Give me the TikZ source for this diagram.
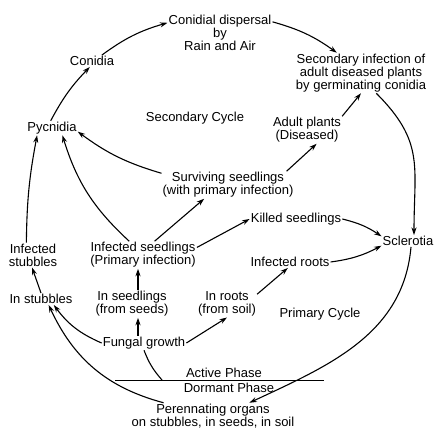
\documentclass[tikz,border=0pt]{standalone}
\usepackage{fontspec}
\setmainfont{Liberation Sans}
\usepackage{tikz}
\usetikzlibrary{arrows.meta}
\usetikzlibrary{calc}

\begin{document}
\begin{tikzpicture}[x=1pt, y=1pt,
	lbl/.style={align=center, inner sep=1pt, font=\fontsize{13}{13}\selectfont},
	arr/.style={line width=1.1pt, -{Stealth[length=7.5pt, width=5pt]}}]
	\useasboundingbox (0, 0) rectangle (434, -428);

	\node[lbl] (disp) at (220, -33) {Conidial dispersal\\by\\Rain and Air};
	\node[lbl] (con) at (92, -61) {Conidia};
	\node[lbl] (pyc) at (52, -128) {Pycnidia};
	\node[lbl] (seccyc) at (195, -118) {Secondary Cycle};
	\node[lbl] (sec) at (361, -73) {Secondary infection of\\adult diseased plants\\by germinating conidia};
	\node[lbl] (adult) at (307, -130) {Adult plants\\(Diseased)};
	\node[lbl] (surv) at (228, -185) {Surviving seedlings\\(with primary infection)};
	\node[lbl] (kill) at (296, -219) {Killed seedlings};
	\node[lbl] (scl) at (408, -241) {Sclerotia};
	\node[lbl] (iroot) at (290, -262) {Infected roots};
	\node[lbl] (iseed) at (143, -255) {Infected seedlings\\(Primary infection)};
	\node[lbl] (istub) at (33, -255) {Infected\\stubbles};
	\node[lbl] (stub) at (41, -299) {In stubbles};
	\node[lbl] (iseedin) at (132, -304) {In seedlings\\(from seeds)};
	\node[lbl] (irootin) at (227, -304) {In roots\\(from soil)};
	\node[lbl] (pricyc) at (320, -314) {Primary Cycle};
	\node[lbl] (fun) at (144, -343) {Fungal growth};
	\node[lbl] (act) at (224, -373) {Active Phase};
	\node[lbl] (dorm) at (229, -388) {Dormant Phase};
	\node[lbl] (per) at (213, -416) {Perennating organs\\on stubbles, in seeds, in soil};

	% active / dormant phase
	\coordinate (pa) at (115, -380);
	\coordinate (pb) at (324, -380);
	\coordinate (pf) at (162, -380);
	\draw[line width=0.7pt] (pa) -- (pb);

	% secondary cycle
	\draw[arr] (pyc.100) to[bend left=8] (con.250);
	\draw[arr] (con.31) to[bend left=10] (disp.169);
	\draw[arr] (disp.12) to[bend left=10] (sec.140);
	\draw[arr] (sec.307) to[out=-45, in=90, looseness=1.2] ([xshift=6pt]scl.north);
	\draw[arr] (surv.170) to[bend left=10] (pyc.352);
	\draw[arr] (iseed.135) to[bend left=15] (pyc.325);
	\draw[arr] (istub.118) to[bend left=5] (pyc.206);
	\draw[arr] ([xshift=-8pt]surv.north east) -- (adult.305);
	\draw[arr] (adult.north east) -- (sec.south);

	% primary cycle
	\draw[arr] ([xshift=3pt]scl.south) to[out=-95, in=25] (per.20);
	\draw[arr] (per.165) to[out=165, in=-65] (stub.322);
	\draw[arr] (fun.west) to[bend left=15] (stub.335);
	\draw[arr] (stub.north) -- ([xshift=-1pt]istub.south);
	\draw[arr] ([xshift=-6pt]fun.north) -- ([xshift=6pt]iseedin.south);
	\draw[arr] ([xshift=6pt]iseedin.north) -- ([xshift=-5pt]iseed.south);
	\draw[arr] (fun.east) -- (irootin.south);
	\draw[arr] (irootin.18) -- (iroot.250);
	\draw[arr] (iseed.50) -- (surv.210);
	\draw[arr] (iseed.8) -- (kill.west);
	\draw[arr] (kill.east) to[bend left=10] (scl.170);
	\draw[arr] (iroot.east) to[bend right=10] (scl.190);
	\draw[line width=1.1pt] (fun.south) to[bend right=10] (pf);
\end{tikzpicture}
\end{document}
